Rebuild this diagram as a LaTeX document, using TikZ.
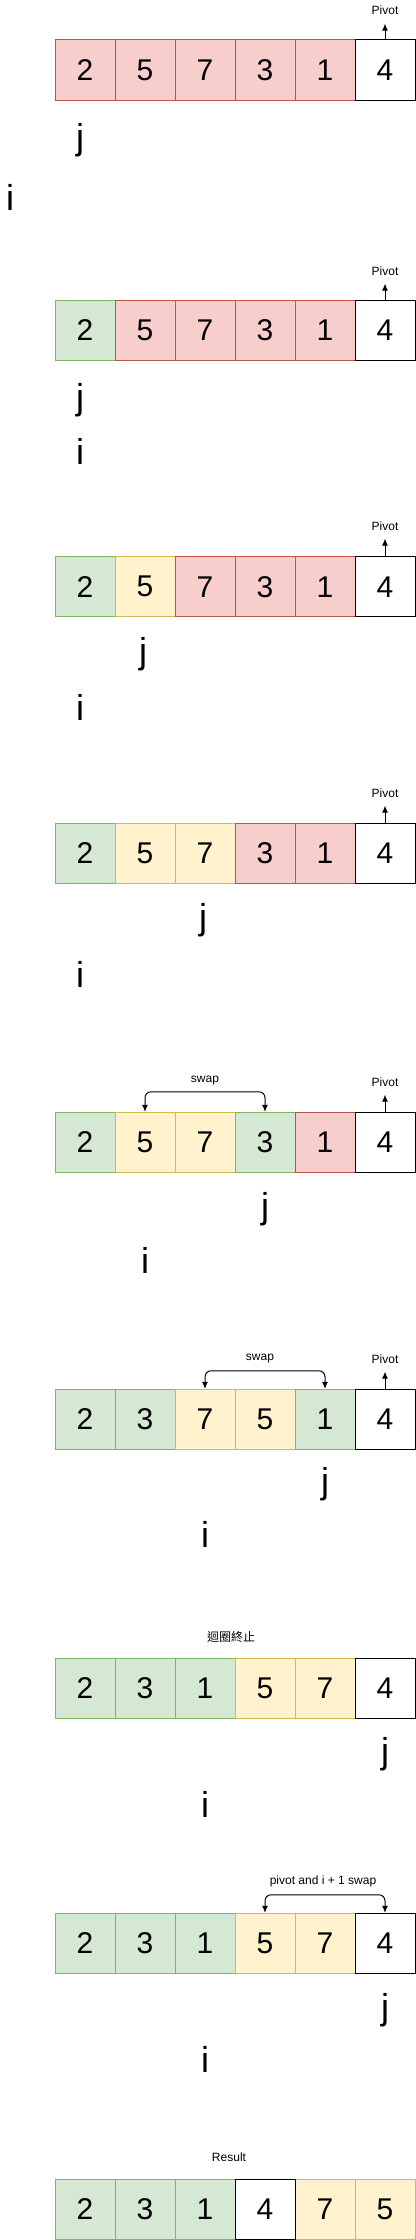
\documentclass[tikz,border=0pt]{standalone}
\usepackage{fontspec}
\setmainfont{Liberation Sans}
\newfontfamily\cjk{Noto Sans CJK TC}
\usetikzlibrary{arrows.meta}

\definecolor{redfill}{HTML}{F8CECC}
\definecolor{redline}{HTML}{B85450}
\definecolor{greenfill}{HTML}{D5E8D4}
\definecolor{greenline}{HTML}{82B366}
\definecolor{yellowfill}{HTML}{FFF2CC}
\definecolor{yellowline}{HTML}{D6B656}

\tikzset{
    cell/.style={draw, minimum size=60pt, inner sep=0pt, font=\fontsize{30}{36}\selectfont},
    redcell/.style={cell, fill=redfill, draw=redline},
    greencell/.style={cell, fill=greenfill, draw=greenline},
    yellowcell/.style={cell, fill=yellowfill, draw=yellowline},
    pivotcell/.style={cell, fill=white, draw=black},
    ptr/.style={anchor=base, inner sep=0pt, font=\fontsize{36}{40}\selectfont},
    note/.style={anchor=base, inner sep=0pt, font=\fontsize{12}{14}\selectfont},
    tip/.tip={Latex[length=7pt, width=6pt]},
    pivarrow/.style={-tip, shorten >=8pt},
    swaparrow/.style={tip-tip, rounded corners=6pt},
}

\begin{document}
\begin{tikzpicture}[x=1pt, y=-1pt, line width=1pt]
        \useasboundingbox (0,0) rectangle (415,2240);

        % start
        \foreach \v/\s [count=\k] in {2/redcell,5/redcell,7/redcell,3/redcell,1/redcell,4/pivotcell}
            \node[\s] (r1-\k) at (25+60*\k,70) {\v};
        \node[note] (p1) at (385,15) {Pivot};
        \draw[pivarrow] (r1-6) -- (p1);
        \node[ptr] (j1) at (80,149) {j};
        \node[ptr] (i1) at (10,210) {i};

        % 2 < 4
        \foreach \v/\s [count=\k] in {2/greencell,5/redcell,7/redcell,3/redcell,1/redcell,4/pivotcell}
            \node[\s] (r2-\k) at (25+60*\k,330) {\v};
        \node[note] (p2) at (385,275) {Pivot};
        \draw[pivarrow] (r2-6) -- (p2);
        \node[ptr] (j2) at (80,409) {j};
        \node[ptr] (i2) at (80,464) {i};

        % 5 > 4
        \foreach \v/\s [count=\k] in {2/greencell,5/yellowcell,7/redcell,3/redcell,1/redcell,4/pivotcell}
            \node[\s] (r3-\k) at (25+60*\k,586.7) {\v};
        \node[note] (p3) at (385,530) {Pivot};
        \draw[pivarrow] (r3-6) -- (p3);
        \node[ptr] (j3) at (143,663) {j};
        \node[ptr] (i3) at (80,720) {i};

        % 7 > 4
        \foreach \v/\s [count=\k] in {2/greencell,5/yellowcell,7/yellowcell,3/redcell,1/redcell,4/pivotcell}
            \node[\s] (r4-\k) at (25+60*\k,853.3) {\v};
        \node[note] (p4) at (385,797) {Pivot};
        \draw[pivarrow] (r4-6) -- (p4);
        \node[ptr] (j4) at (203,929) {j};
        \node[ptr] (i4) at (80,987) {i};

        % 3 < 4, swap
        \foreach \v/\s [count=\k] in {2/greencell,5/yellowcell,7/yellowcell,3/greencell,1/redcell,4/pivotcell}
            \node[\s] (r5-\k) at (25+60*\k,1142.3) {\v};
        \node[note] (p5) at (385,1086) {Pivot};
        \draw[pivarrow] (r5-6) -- (p5);
        \node[note] (s5) at (205,1082) {swap};
        \draw[swaparrow] (r5-2.north) -- ++(0,-20) -| (r5-4.north);
        \node[ptr] (j5) at (265,1218) {j};
        \node[ptr] (i5) at (145,1273) {i};

        % 1 < 4, swap
        \foreach \v/\s [count=\k] in {2/greencell,3/greencell,7/yellowcell,5/yellowcell,1/greencell,4/pivotcell}
            \node[\s] (r6-\k) at (25+60*\k,1419.3) {\v};
        \node[note] (p6) at (385,1363) {Pivot};
        \draw[pivarrow] (r6-6) -- (p6);
        \node[note] (s6) at (260,1360) {swap};
        \draw[swaparrow] (r6-3.north) -- ++(0,-18) -| (r6-5.north);
        \node[ptr] (j6) at (325,1493) {j};
        \node[ptr] (i6) at (205,1547) {i};

        % loop ends
        \foreach \v/\s [count=\k] in {2/greencell,3/greencell,1/greencell,5/yellowcell,7/yellowcell,4/pivotcell}
            \node[\s] (r7-\k) at (25+60*\k,1688.3) {\v};
        \node[note, font=\cjk\fontsize{12}{14}\selectfont] (t7) at (231,1641) {迴圈終止};
        \node[ptr] (j7) at (385,1763) {j};
        \node[ptr] (i7) at (205,1817) {i};

        % pivot swap
        \foreach \v/\s [count=\k] in {2/greencell,3/greencell,1/greencell,5/yellowcell,7/yellowcell,4/pivotcell}
            \node[\s] (r8-\k) at (25+60*\k,1943.3) {\v};
        \node[note] (s8) at (323,1884) {pivot and i + 1 swap};
        \draw[swaparrow] (r8-4.north) -- ++(0,-18) -| (r8-6.north);
        \node[ptr] (j8) at (385,2019) {j};
        \node[ptr] (i8) at (205,2072) {i};

        % result
        \foreach \k/\v/\s in {1/2/greencell,2/3/greencell,3/1/greencell,5/7/yellowcell,6/5/yellowcell,4/4/pivotcell}
            \node[\s] (r9-\k) at (25+60*\k,2209.3) {\v};
        \node[note] (t9) at (229,2161) {Result};
    \end{tikzpicture}
\end{document}
